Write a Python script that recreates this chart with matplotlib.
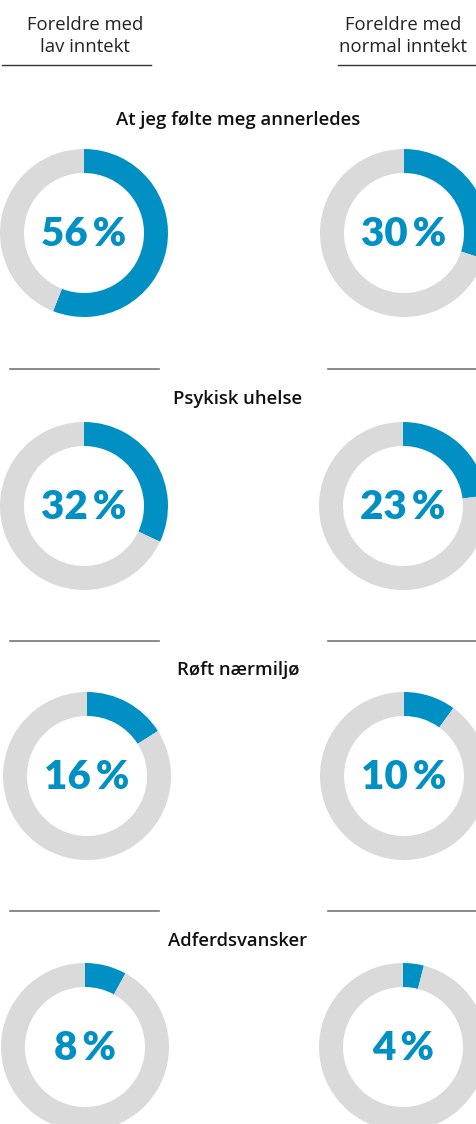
import matplotlib.pyplot as plt

plt.rcParams["font.family"] = ["Lato", "DejaVu Sans"]

categories = ["At jeg følte meg annerledes", "Psykisk uhelse", "Røft nærmiljø", "Adferdsvansker"]
group_labels = ["Foreldre med\nlav inntekt", "Foreldre med\nnormal inntekt"]
low_income = [56, 32, 16, 8]
normal_income = [30, 23, 10, 4]

BLUE = "#0090c4"
GREY = "#dadada"
LINE = "#777777"
TEXT_FONT = ["Open Sans", "DejaVu Sans"]

W, H = 476, 1124
fig = plt.figure(figsize=(W / 100, H / 100), dpi=100)
bg = fig.add_axes([0, 0, 1, 1])
bg.set_xlim(0, W)
bg.set_ylim(H, 0)
bg.axis("off")

# headers
bg.text(85, 36, group_labels[0], ha="center", va="center", fontsize=13.3,
        family=TEXT_FONT, color="#222222", linespacing=1.3)
bg.text(403, 36, group_labels[1], ha="center", va="center", fontsize=13.3,
        family=TEXT_FONT, color="#222222", linespacing=1.3)
bg.plot([2, 151], [65, 65], color="#333333", lw=1)
bg.plot([338, 476], [65, 65], color="#333333", lw=1)

title_y = [120, 399, 670, 941]
centre_y = [233, 506, 776, 1047]
left_x = [84, 84, 87, 85]
right_x = [404, 403, 404, 403]
sep_y = [369, 641, 911]

R = 84  # outer radius in px


def donut(cx, cy, value):
    ax = fig.add_axes([(cx - R) / W, 1 - (cy + R) / H, 2 * R / W, 2 * R / H])
    ax.pie([value, 100 - value], colors=[BLUE, GREY], startangle=90,
           counterclock=False, radius=1,
           wedgeprops=dict(width=24 / R, linewidth=0))
    ax.set_xlim(-1, 1)
    ax.set_ylim(-1, 1)
    ax.set_aspect("equal")
    ax.axis("off")
    ax.text(0, -0.02, f"{value}\u2009%", ha="center", va="center",
            fontsize=29, fontweight="heavy", color=BLUE)


for i, cat in enumerate(categories):
    bg.text(238, title_y[i], cat, ha="center", va="center", fontsize=13.3,
            family=TEXT_FONT, fontweight="semibold", color="#111111")
    donut(left_x[i], centre_y[i], low_income[i])
    donut(right_x[i], centre_y[i], normal_income[i])

for y in sep_y:
    bg.plot([10, 159], [y, y], color=LINE, lw=1.2)
    bg.plot([328, 476], [y, y], color=LINE, lw=1.2)

fig.savefig("out.png", dpi=100)
